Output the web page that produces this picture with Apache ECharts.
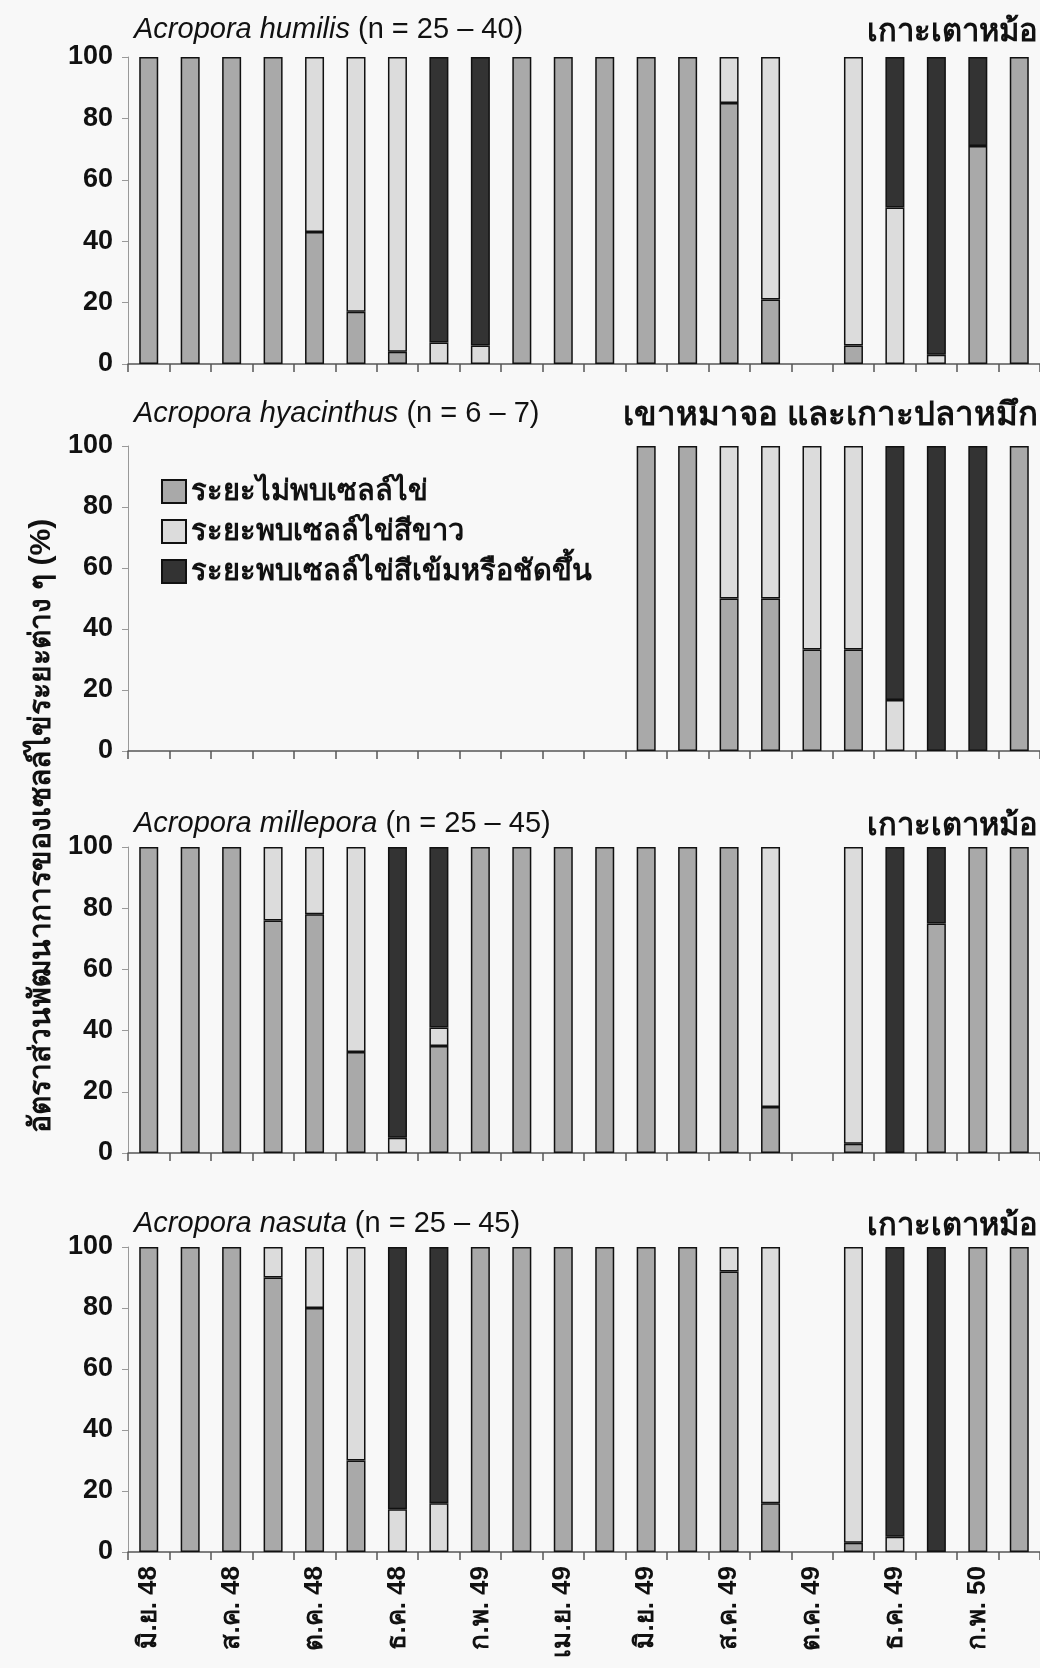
<!DOCTYPE html>
<html lang="th">
  <head>
    <meta charset="UTF-8" />
    <title>Acropora oocyte stages</title>
    <style>
      * { padding: 0; margin: 0; }
      body { background: #f8f8f8; }
    </style>
    <script src="https://cdn.jsdelivr.net/npm/echarts@6/dist/echarts.min.js"></script>
  </head>
  <body>
    <div id="main" style="width: 1040px; height: 1668px;"></div>
    <script type="text/javascript">
      // months, June 2548 to March 2550
      var months = ['มิ.ย. 48', 'ก.ค. 48', 'ส.ค. 48', 'ก.ย. 48', 'ต.ค. 48', 'พ.ย. 48', 'ธ.ค. 48', 'ม.ค. 49',
        'ก.พ. 49', 'มี.ค. 49', 'เม.ย. 49', 'พ.ค. 49', 'มิ.ย. 49', 'ก.ค. 49', 'ส.ค. 49', 'ก.ย. 49',
        'ต.ค. 49', 'พ.ย. 49', 'ธ.ค. 49', 'ม.ค. 50', 'ก.พ. 50', 'มี.ค. 50'];

      var stageNames = ['ระยะไม่พบเซลล์ไข่', 'ระยะพบเซลล์ไข่สีขาว', 'ระยะพบเซลล์ไข่สีเข้มหรือชัดขึ้น'];
      var stageColors = ['#a9a9a9', '#dcdcdc', '#333333'];

      var humilisNone  = [100, 100, 100, 100, 43, 17, 4, 0, 0, 100, 100, 100, 100, 100, 85, 21, 0, 6, 0, 0, 71, 100];
      var humilisWhite = [0, 0, 0, 0, 57, 83, 96, 7, 6, 0, 0, 0, 0, 0, 15, 79, 0, 94, 51, 3, 0, 0];
      var humilisDark  = [0, 0, 0, 0, 0, 0, 0, 93, 94, 0, 0, 0, 0, 0, 0, 0, 0, 0, 49, 97, 29, 0];

      var hyacinthusNone  = [0, 0, 0, 0, 0, 0, 0, 0, 0, 0, 0, 0, 100, 100, 50, 50, 33.3, 33.3, 0, 0, 0, 100];
      var hyacinthusWhite = [0, 0, 0, 0, 0, 0, 0, 0, 0, 0, 0, 0, 0, 0, 50, 50, 66.7, 66.7, 16.7, 0, 0, 0];
      var hyacinthusDark  = [0, 0, 0, 0, 0, 0, 0, 0, 0, 0, 0, 0, 0, 0, 0, 0, 0, 0, 83.3, 100, 100, 0];

      var milleporaNone  = [100, 100, 100, 76, 78, 33, 0, 35, 100, 100, 100, 100, 100, 100, 100, 15, 0, 3, 0, 75, 100, 100];
      var milleporaWhite = [0, 0, 0, 24, 22, 67, 5, 6, 0, 0, 0, 0, 0, 0, 0, 85, 0, 97, 0, 0, 0, 0];
      var milleporaDark  = [0, 0, 0, 0, 0, 0, 95, 59, 0, 0, 0, 0, 0, 0, 0, 0, 0, 0, 100, 25, 0, 0];

      var nasutaNone  = [100, 100, 100, 90, 80, 30, 0, 0, 100, 100, 100, 100, 100, 100, 92, 16, 0, 3, 0, 0, 100, 100];
      var nasutaWhite = [0, 0, 0, 10, 20, 70, 14, 16, 0, 0, 0, 0, 0, 0, 8, 84, 0, 97, 5, 0, 0, 0];
      var nasutaDark  = [0, 0, 0, 0, 0, 0, 86, 84, 0, 0, 0, 0, 0, 0, 0, 0, 0, 0, 95, 100, 0, 0];

      var yTicks = [0, 20, 40, 60, 80, 100];

      var panels = [
        { species: 'Acropora humilis', n: '(n = 25 – 40)', site: 'เกาะเตาหม้อ',
          data: [humilisNone, humilisWhite, humilisDark], top: 57, height: 307, titleY: 30 },
        { species: 'Acropora hyacinthus', n: '(n = 6 – 7)', site: 'เขาหมาจอ และเกาะปลาหมึก',
          data: [hyacinthusNone, hyacinthusWhite, hyacinthusDark], top: 446, height: 305, titleY: 414 },
        { species: 'Acropora millepora', n: '(n = 25 – 45)', site: 'เกาะเตาหม้อ',
          data: [milleporaNone, milleporaWhite, milleporaDark], top: 847, height: 306, titleY: 824 },
        { species: 'Acropora nasuta', n: '(n = 25 – 45)', site: 'เกาะเตาหม้อ',
          data: [nasutaNone, nasutaWhite, nasutaDark], top: 1247, height: 305, titleY: 1224 }
      ];

      var latin = '"Liberation Sans", Arial, sans-serif';
      var thai = '"Liberation Sans", "Noto Sans", "DejaVu Sans", sans-serif';

      var myChart = echarts.init(document.getElementById('main'));

      var grids = [], xAxes = [], yAxes = [], series = [], titles = [];

      panels.forEach(function (p, i) {
        var last = i === panels.length - 1;
        grids.push({ left: 128, width: 921, top: p.top, height: p.height });
        xAxes.push({
          type: 'category',
          gridIndex: i,
          data: months,
          axisLine: { lineStyle: { color: '#555', width: 1.5 } },
          axisTick: { show: true, interval: 0, length: 8, lineStyle: { color: '#555', width: 1.5 } },
          axisLabel: {
            show: last,
            interval: 1,
            rotate: 90,
            margin: 14,
            fontSize: 26,
            fontWeight: 'bold',
            fontFamily: thai,
            color: '#111'
          }
        });
        yAxes.push({
          type: 'value',
          gridIndex: i,
          min: yTicks[0],
          max: yTicks[yTicks.length - 1],
          interval: 20,
          splitLine: { show: false },
          axisLine: { show: true, lineStyle: { color: '#999', width: 1 } },
          axisTick: { show: true, length: 6, lineStyle: { color: '#999' } },
          axisLabel: { margin: 15, fontSize: 27, fontWeight: 'bold', fontFamily: latin, color: '#111' }
        });
        p.data.forEach(function (vals, s) {
          series.push({
            name: stageNames[s],
            type: 'bar',
            xAxisIndex: i,
            yAxisIndex: i,
            stack: 'p' + i,
            barWidth: 19,
            itemStyle: { color: stageColors[s], borderColor: '#111', borderWidth: 1.5 },
            data: vals.map(function (v) { return v > 0 ? v : '-'; })
          });
        });
        titles.push({
          text: '{i|' + p.species + '} ' + p.n,
          left: 134,
          top: p.titleY - 16,
          padding: 0,
          textStyle: {
            fontSize: 29, fontWeight: 'normal', fontFamily: latin, color: '#111', lineHeight: 32,
            rich: { i: { fontSize: 29, fontStyle: 'italic', fontFamily: latin, color: '#111', lineHeight: 32 } }
          }
        });
        titles.push({
          text: p.site,
          right: 2,
          top: p.titleY - 15,
          padding: 0,
          textStyle: { fontSize: i === 1 ? 33 : 31, fontWeight: 'bold', fontFamily: thai, color: '#111', lineHeight: 34 }
        });
      });

      var option = {
        backgroundColor: '#f8f8f8',
        animation: false,
        title: titles,
        legend: {
          data: stageNames,
          orient: 'vertical',
          left: 156,
          top: 472,
          itemWidth: 24,
          itemHeight: 23,
          itemGap: 11,
          icon: 'rect',
          textStyle: { fontSize: 29, fontWeight: 'bold', fontFamily: thai, color: '#111' }
        },
        grid: grids,
        xAxis: xAxes,
        yAxis: yAxes,
        series: series,
        graphic: [{
          type: 'text',
          x: 42,
          y: 826,
          rotation: Math.PI / 2,
          style: {
            text: 'อัตราส่วนพัฒนาการของเซลล์ไข่ระยะต่าง ๆ (%)',
            font: 'bold 30px ' + thai,
            fill: '#111',
            textAlign: 'center',
            textVerticalAlign: 'middle'
          }
        }]
      };

      myChart.setOption(option, true);
    </script>
  </body>
</html>
